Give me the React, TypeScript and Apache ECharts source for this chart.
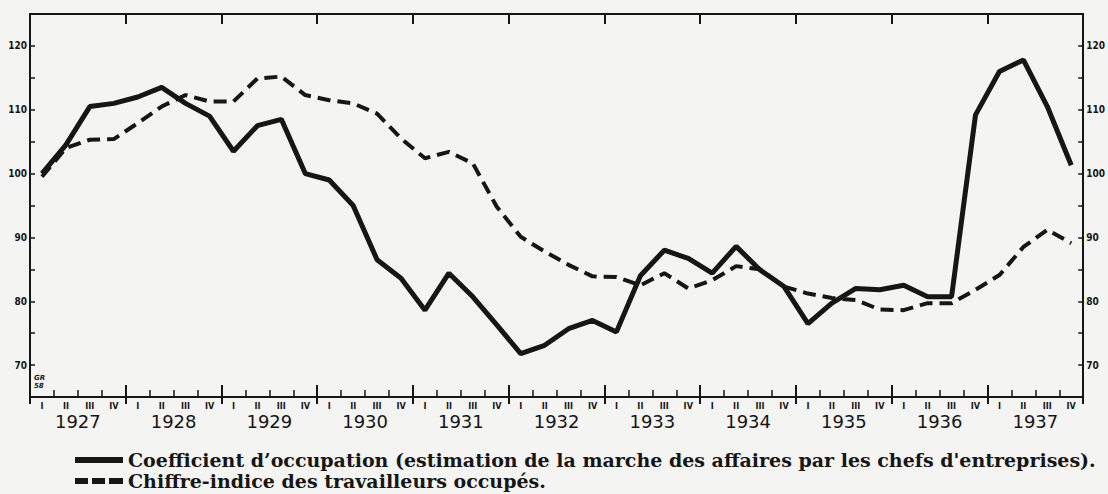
import React, { useEffect, useRef } from "react";
import * as echarts from "echarts";

const years = ["1927", "1928", "1929", "1930", "1931", "1932", "1933", "1934", "1935", "1936", "1937"];
const quarterNames = ["I", "II", "III", "IV"];
const quarters: string[] = years.flatMap((y) => quarterNames.map((q) => `${q} ${y}`));

const coefficientOccupation = [
  100, 104.5, 110.5, 111, 112, 113.5, 111, 109,
  103.5, 107.5, 108.5, 100, 99, 95, 86.5, 83.6,
  78.6, 84.4, 80.7, 76.3, 71.8, 73.1, 75.7, 77,
  75.2, 84, 88, 86.7, 84.4, 88.6, 84.9, 82.3,
  76.5, 79.7, 82, 81.8, 82.5, 80.7, 80.7, 109.2,
  116, 117.8, 110.5, 101.3,
];

const travailleursOccupes = [
  99.5, 104, 105.3, 105.4, 107.9, 110.5, 112.3, 111.3,
  111.3, 114.9, 115.2, 112.3, 111.5, 111, 109.4, 105.5,
  102.4, 103.4, 101.6, 94.8, 90.1, 87.8, 85.7, 83.9,
  83.8, 82.5, 84.4, 82, 83.3, 85.5, 85, 82.3,
  81.2, 80.5, 80.2, 78.7, 78.6, 79.7, 79.7, 81.8,
  84.1, 88.5, 91.2, 89.1,
];

const yTickLabels = [70, 80, 90, 100, 110, 120];

const legendSolid = "Coefficient d\u2019occupation (estimation de la marche des affaires par les chefs d'entreprises).";
const legendDashed = "Chiffre-indice des travailleurs occup\u00e9s.";

const INK = "#161616";

export default function App() {
  const ref = useRef<HTMLDivElement>(null);

  useEffect(() => {
    if (!ref.current) return;
    const chart = echarts.init(ref.current, undefined, { renderer: "svg" });

    const yLabel = (v: number) => (yTickLabels.includes(v) ? String(v) : "");
    const yAxisBase = {
      type: "value" as const,
      min: 65,
      max: 125,
      interval: 5,
      axisLine: { show: true, lineStyle: { color: INK, width: 2 } },
      axisTick: { show: true, inside: true, length: 5, lineStyle: { color: INK, width: 1.5 } },
      splitLine: { show: false },
      axisLabel: {
        formatter: yLabel,
        fontSize: 10,
        fontWeight: "bold" as const,
        fontFamily: "DejaVu Sans Condensed, DejaVu Sans",
        color: INK,
        margin: 3,
      },
    };

    chart.setOption({
      animation: false,
      backgroundColor: "#f4f4f2",
      grid: { left: 30, right: 22, top: 14, bottom: 97, containLabel: false },
      xAxis: [
        {
          type: "category",
          data: quarters,
          position: "bottom",
          boundaryGap: true,
          axisLine: { show: true, lineStyle: { color: INK, width: 2 } },
          axisTick: { show: true, inside: true, length: 7, interval: 0, lineStyle: { color: INK, width: 1.5 } },
          axisLabel: {
            interval: 0,
            formatter: (v: string) => v.split(" ")[0],
            fontSize: 9,
            fontWeight: "bold",
            fontFamily: "DejaVu Sans Condensed, DejaVu Sans",
            color: INK,
            margin: 4,
          },
        },
        {
          type: "category",
          data: years,
          position: "bottom",
          boundaryGap: true,
          axisLine: { show: false },
          axisTick: { show: true, inside: true, length: 12, interval: 0, lineStyle: { color: INK, width: 2 } },
          axisLabel: {
            interval: 0,
            fontSize: 18,
            fontFamily: "DejaVu Sans",
            color: INK,
            margin: 15,
          },
        },
        {
          type: "category",
          data: years,
          position: "bottom",
          boundaryGap: true,
          axisLine: { show: false },
          axisTick: { show: true, inside: false, length: 7, interval: 0, lineStyle: { color: INK, width: 2 } },
          axisLabel: { show: false },
        },
        {
          type: "category",
          data: years,
          position: "top",
          boundaryGap: true,
          axisLine: { show: true, lineStyle: { color: INK, width: 2 } },
          axisTick: { show: true, inside: true, length: 10, interval: 0, lineStyle: { color: INK, width: 2 } },
          axisLabel: { show: false },
        },
      ],
      yAxis: [
        { ...yAxisBase, position: "left" },
        { ...yAxisBase, position: "right" },
      ],
      series: [
        {
          name: "Coefficient d'occupation",
          type: "line",
          xAxisIndex: 0,
          yAxisIndex: 0,
          data: coefficientOccupation,
          symbol: "none",
          lineStyle: { color: INK, width: 5 },
        },
        {
          name: "Chiffre-indice des travailleurs occupés",
          type: "line",
          xAxisIndex: 0,
          yAxisIndex: 0,
          data: travailleursOccupes,
          symbol: "none",
          lineStyle: { color: INK, width: 4, type: [13, 7] },
        },
      ],
      graphic: [
        {
          type: "text",
          left: 34,
          top: 374,
          style: {
            text: "GR\n58",
            fontSize: 7,
            fontStyle: "italic",
            fontWeight: "bold",
            fontFamily: "DejaVu Sans",
            fill: INK,
            lineHeight: 8,
          },
        },
        { type: "rect", shape: { x: 75, y: 457, width: 48, height: 6 }, style: { fill: INK } },
        { type: "rect", shape: { x: 75, y: 478, width: 13, height: 6 }, style: { fill: INK } },
        { type: "rect", shape: { x: 92, y: 478, width: 13, height: 6 }, style: { fill: INK } },
        { type: "rect", shape: { x: 109, y: 478, width: 14, height: 6 }, style: { fill: INK } },
        {
          type: "text",
          x: 128,
          y: 460,
          style: {
            text: legendSolid,
            fontSize: 19,
            fontWeight: "bold",
            fontFamily: "DejaVu Serif",
            fill: INK,
            verticalAlign: "middle",
          },
        },
        {
          type: "text",
          x: 128,
          y: 481,
          style: {
            text: legendDashed,
            fontSize: 19,
            fontWeight: "bold",
            fontFamily: "DejaVu Serif",
            fill: INK,
            verticalAlign: "middle",
          },
        },
      ],
    });

    return () => chart.dispose();
  }, []);

  return (
    <div
      ref={ref}
      style={{ position: "fixed", left: 0, top: 0, width: 1108, height: 494 }}
    />
  );
}
